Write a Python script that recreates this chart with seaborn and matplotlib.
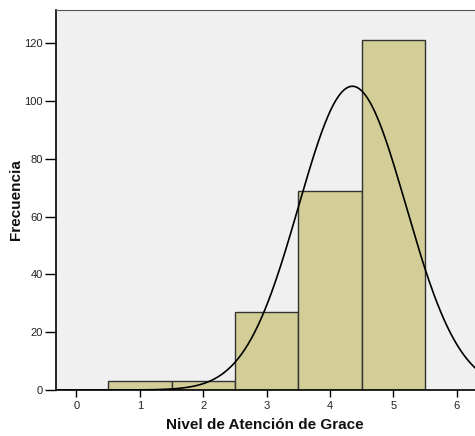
import numpy as np
import pandas as pd
import matplotlib
matplotlib.use("Agg")
import matplotlib.pyplot as plt
import seaborn as sns

# counts per level
niveles = [1, 2, 3, 4, 5]
frecuencias = [3, 3, 27, 69, 121]
xticks = [0, 1, 2, 3, 4, 5, 6]
yticks = [0, 20, 40, 60, 80, 100, 120]

df = pd.DataFrame({"nivel": niveles, "n": frecuencias})

sns.set_style("ticks")
plt.rcParams["font.family"] = ["Liberation Sans", "DejaVu Sans"]

fig = plt.figure(figsize=(4.75, 4.36), dpi=100)
ax = fig.add_axes([0.117, 0.1055, 0.883, 0.8715])
ax.set_facecolor("#F0F0F0")

sns.histplot(data=df, x="nivel", weights="n", discrete=True, ax=ax,
             color="#D3CE97", alpha=1, edgecolor="#333333", linewidth=1.0)

# normal curve fitted to the data
total = df["n"].sum()
media = (df["nivel"] * df["n"]).sum() / total
var = ((df["nivel"] - media) ** 2 * df["n"]).sum() / (total - 1)
sd = np.sqrt(var)
xs = np.linspace(-0.5, 6.5, 400)
ys = total / (sd * np.sqrt(2 * np.pi)) * np.exp(-0.5 * ((xs - media) / sd) ** 2)
sns.lineplot(x=xs, y=ys, ax=ax, color="black", linewidth=1.2)

ax.set_xlim(-0.33, 6.29)
ax.set_ylim(0, 131.5)
ax.set_xticks(xticks)
ax.set_yticks(yticks)
ax.tick_params(axis="y", length=8, width=1, labelsize=8, pad=1, colors="black", labelcolor="#222222")
ax.tick_params(axis="x", length=5, width=1, labelsize=8, pad=3, colors="black", labelcolor="#222222")

for s in ["left", "bottom"]:
    ax.spines[s].set_color("black")
    ax.spines[s].set_linewidth(1.2)
ax.spines["top"].set_color("#555555")
ax.spines["top"].set_visible(True)
ax.spines["right"].set_visible(False)

ax.set_xlabel("Nivel de Atención de Grace", fontsize=11, fontweight="bold",
              labelpad=5, color="#111111")
ax.set_ylabel("Frecuencia", fontsize=11, fontweight="bold", color="#111111")
ax.yaxis.set_label_coords(-0.078, 0.5)

fig.savefig("out.png", dpi=100)
